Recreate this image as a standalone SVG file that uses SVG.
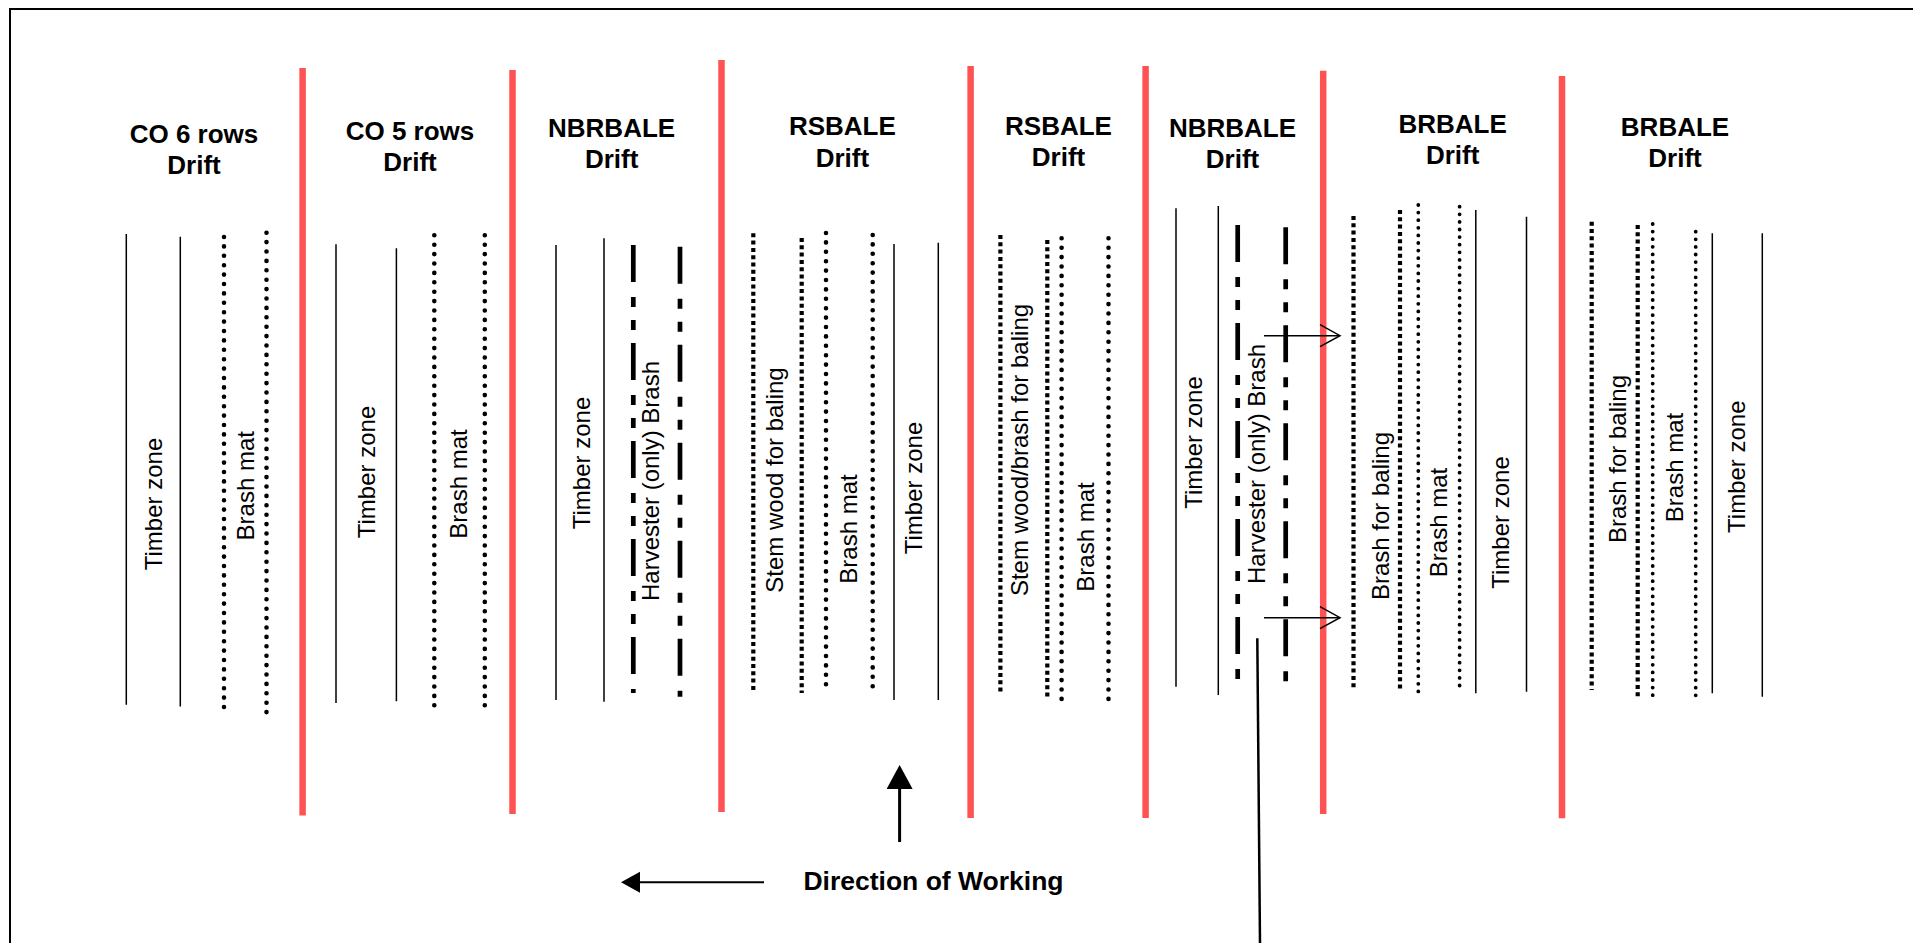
<svg xmlns="http://www.w3.org/2000/svg" width="1913" height="943" viewBox="0 0 1913 943">
<style>
.head{font-family:"Liberation Sans",Arial,sans-serif;font-weight:bold;font-size:26px;text-anchor:middle;fill:#000}
.lab{font-family:"Liberation Sans",Arial,sans-serif;font-size:24px;text-anchor:middle;fill:#000}
.solid{stroke:#000;stroke-width:1.5;fill:none}
.sq{stroke:#000;stroke-width:4.2;stroke-dasharray:4 3.3;fill:none}
.rd{stroke:#000;stroke-width:4.6;stroke-linecap:round;stroke-dasharray:0 9.4;fill:none}
.rd2{stroke:#000;stroke-width:3.8;stroke-linecap:round;stroke-dasharray:0 7.6;fill:none}
.dd{stroke:#000;stroke-width:4.7;stroke-dasharray:37 15 10 13 10 13;fill:none}
.red{stroke:#FF5252;stroke-width:6.5;fill:none}
.conn{stroke:#000;fill:none}
</style>
<defs>
<marker id="open" markerUnits="userSpaceOnUse" viewBox="-22 -13 24 26" markerWidth="24" markerHeight="26" refX="0" refY="0" orient="auto">
<path d="M-20,-11 L0,0 L-20,11" fill="none" stroke="#000" stroke-width="1.5"/>
</marker>
<marker id="tri-up" markerUnits="userSpaceOnUse" viewBox="0 -13 24 26" markerWidth="24" markerHeight="26" refX="0" refY="0" orient="auto">
<path d="M0,-13 L24,0 L0,13 Z" fill="#000"/>
</marker>
<marker id="tri-left" markerUnits="userSpaceOnUse" viewBox="0 -11 19 22" markerWidth="19" markerHeight="22" refX="0" refY="0" orient="auto">
<path d="M0,-10.5 L19,0 L0,10.5 Z" fill="#000"/>
</marker>
</defs>
<rect width="1913" height="943" fill="#fff"/>
<path id="frame" d="M10,943 V9 H1913" stroke="#000" stroke-width="2" fill="none"/>

<g id="separators">
<line class="red" x1="302.6" y1="68" x2="302.6" y2="815.5"/>
<line class="red" x1="512.5" y1="70" x2="512.5" y2="814"/>
<line class="red" x1="721.5" y1="60" x2="721.5" y2="812"/>
<line class="red" x1="970.6" y1="66" x2="970.6" y2="818"/>
<line class="red" x1="1145.6" y1="66" x2="1145.6" y2="818"/>
<line class="red" x1="1323.2" y1="70.7" x2="1323.2" y2="814"/>
<line class="red" x1="1562" y1="76" x2="1562" y2="818.3"/>
</g>

<g id="col1">
<text class="head" x="194" y="143">CO 6 rows</text>
<text class="head" x="194" y="174">Drift</text>
<line class="solid" x1="126.3" y1="234" x2="126.3" y2="704.7"/>
<line class="solid" x1="180.3" y1="236.7" x2="180.3" y2="706.4"/>
<line class="rd" x1="224" y1="237" x2="224" y2="707.5"/>
<line class="rd" x1="266.5" y1="232.7" x2="266.5" y2="714.4"/>
<text class="lab" transform="translate(161.6 504) rotate(-90)">Timber zone</text>
<text class="lab" transform="translate(254.4 485.7) rotate(-90)">Brash mat</text>
</g>

<g id="col2">
<text class="head" x="410" y="140">CO 5 rows</text>
<text class="head" x="410" y="171">Drift</text>
<line class="solid" x1="336" y1="244.3" x2="336" y2="703"/>
<line class="solid" x1="396.4" y1="248.3" x2="396.4" y2="701.2"/>
<line class="rd" x1="434.3" y1="235.3" x2="434.3" y2="706.4"/>
<line class="rd" x1="484.8" y1="235.3" x2="484.8" y2="706.4"/>
<text class="lab" transform="translate(375 472) rotate(-90)">Timber zone</text>
<text class="lab" transform="translate(466.5 484) rotate(-90)">Brash mat</text>
</g>

<g id="col3">
<text class="head" x="611.6" y="137.3">NBRBALE</text>
<text class="head" x="611.6" y="168">Drift</text>
<line class="solid" x1="556" y1="245" x2="556" y2="700"/>
<line class="solid" x1="604" y1="238.3" x2="604" y2="701.7"/>
<line class="dd" x1="633.3" y1="245" x2="633.3" y2="693"/>
<line class="dd" x1="680" y1="246.7" x2="680" y2="696.7"/>
<text class="lab" transform="translate(590 463) rotate(-90)">Timber zone</text>
<text class="lab" transform="translate(659 481) rotate(-90)">Harvester (only) Brash</text>
</g>

<g id="col4">
<text class="head" x="842.4" y="135">RSBALE</text>
<text class="head" x="842.4" y="166.7">Drift</text>
<line class="sq" x1="753.3" y1="233.3" x2="753.3" y2="691.7"/>
<line class="sq" x1="801.7" y1="238" x2="801.7" y2="693"/>
<line class="rd" x1="826" y1="233" x2="826" y2="685"/>
<line class="rd" x1="872.7" y1="235" x2="872.7" y2="695"/>
<line class="solid" x1="894" y1="244" x2="894" y2="700"/>
<line class="solid" x1="938.3" y1="242.7" x2="938.3" y2="700"/>
<text class="lab" transform="translate(783 480) rotate(-90)">Stem wood for baling</text>
<text class="lab" transform="translate(857.3 529) rotate(-90)">Brash mat</text>
<text class="lab" transform="translate(921.7 488) rotate(-90)">Timber zone</text>
</g>

<g id="col5">
<text class="head" x="1058.5" y="135">RSBALE</text>
<text class="head" x="1058.5" y="166">Drift</text>
<line class="sq" x1="1000.4" y1="235" x2="1000.4" y2="694.3"/>
<line class="sq" x1="1047.3" y1="240" x2="1047.3" y2="697.8"/>
<line class="rd" x1="1061.6" y1="238.3" x2="1061.6" y2="699.5"/>
<line class="rd" x1="1108.5" y1="238.3" x2="1108.5" y2="699.5"/>
<text class="lab" transform="translate(1028 450) rotate(-90)">Stem wood/brash for baling</text>
<text class="lab" transform="translate(1094 537) rotate(-90)">Brash mat</text>
</g>

<g id="col6">
<text class="head" x="1232.5" y="137.3">NBRBALE</text>
<text class="head" x="1232.5" y="168.3">Drift</text>
<line class="solid" x1="1176" y1="208.3" x2="1176" y2="686.7"/>
<line class="solid" x1="1218.3" y1="206" x2="1218.3" y2="695"/>
<line class="dd" x1="1237.7" y1="225" x2="1237.7" y2="690"/>
<line class="dd" x1="1285.7" y1="227.3" x2="1285.7" y2="691.7"/>
<text class="lab" transform="translate(1201.7 442.5) rotate(-90)">Timber zone</text>
<text class="lab" transform="translate(1264.6 464) rotate(-90)">Harvester (only) Brash</text>
</g>

<g id="col7">
<text class="head" x="1452.6" y="133.3">BRBALE</text>
<text class="head" x="1452.6" y="164">Drift</text>
<line class="sq" x1="1353.5" y1="216" x2="1353.5" y2="690"/>
<line class="sq" x1="1400" y1="210" x2="1400" y2="691.7"/>
<line class="rd2" x1="1418.3" y1="205" x2="1418.3" y2="693.3"/>
<line class="rd2" x1="1459.6" y1="206.7" x2="1459.6" y2="688.3"/>
<line class="solid" x1="1475.8" y1="210" x2="1475.8" y2="693.3"/>
<line class="solid" x1="1526.5" y1="216.7" x2="1526.5" y2="691.7"/>
<text class="lab" transform="translate(1389 516) rotate(-90)">Brash for baling</text>
<text class="lab" transform="translate(1446.7 522.5) rotate(-90)">Brash mat</text>
<text class="lab" transform="translate(1509 522.5) rotate(-90)">Timber zone</text>
</g>

<g id="col8">
<text class="head" x="1675" y="135.7">BRBALE</text>
<text class="head" x="1675" y="166.7">Drift</text>
<line class="sq" x1="1591.7" y1="221.7" x2="1591.7" y2="690"/>
<line class="sq" x1="1637.7" y1="225" x2="1637.7" y2="698.3"/>
<line class="rd2" x1="1652.7" y1="224" x2="1652.7" y2="698.3"/>
<line class="rd2" x1="1695.7" y1="231.7" x2="1695.7" y2="698.3"/>
<line class="solid" x1="1712.3" y1="233.3" x2="1712.3" y2="693.3"/>
<line class="solid" x1="1762.3" y1="233.3" x2="1762.3" y2="696.7"/>
<text class="lab" transform="translate(1625.6 459) rotate(-90)">Brash for baling</text>
<text class="lab" transform="translate(1682.7 467.5) rotate(-90)">Brash mat</text>
<text class="lab" transform="translate(1745 466.7) rotate(-90)">Timber zone</text>
</g>

<g id="connectors">
<line class="conn" stroke-width="1.5" x1="1264" y1="335.7" x2="1340" y2="335.7" marker-end="url(#open)"/>
<line class="conn" stroke-width="1.5" x1="1264" y1="617.7" x2="1340" y2="617.7" marker-end="url(#open)"/>
<line class="conn" stroke-width="2.5" x1="1257.3" y1="638.3" x2="1260" y2="943"/>
<line class="conn" stroke-width="3" x1="899.6" y1="842" x2="899.6" y2="789" marker-end="url(#tri-up)"/>
<line class="conn" stroke-width="2" x1="764" y1="882.3" x2="640" y2="882.3" marker-end="url(#tri-left)"/>
</g>

<g id="direction-label">
<text class="head" x="933.5" y="890" style="font-size:26.5px">Direction of Working</text>
</g>
</svg>
